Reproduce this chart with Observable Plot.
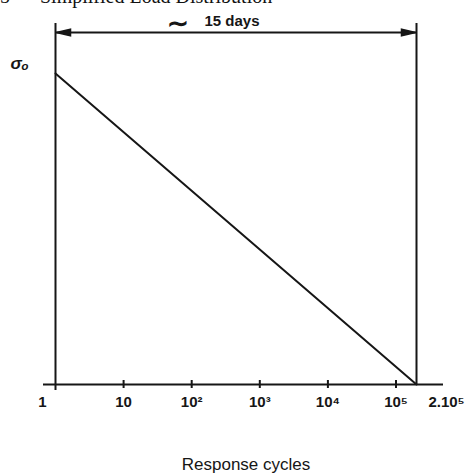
<!DOCTYPE html>
<html><head><meta charset="utf-8">
<script src="https://cdn.jsdelivr.net/npm/d3@7"></script>
<script src="https://cdn.jsdelivr.net/npm/@observablehq/plot@0.6"></script>
<style>
body{margin:0;background:#fff;}
#wrap{position:relative;width:468px;height:475px;overflow:hidden;background:#fff;}
#title{position:absolute;left:0;top:-14px;font:20px/20px "Liberation Serif",serif;white-space:pre;color:#111;}
#chart{position:absolute;left:0;top:0;}
</style></head>
<body>
<div id="wrap">
<div id="title">5      Simplified Load Distribution</div>
<div id="chart"></div>
</div>
<script>
// ---- data ----
const startCycles = 1;
const endCycles = 2e5;
const tickValues = [10, 100, 1e3, 1e4, 1e5];
const tickLabels = ["10", "10²", "10³", "10⁴", "10⁵"];
const startLabel = "1";
const endLabel = "2.10⁵";
const stressCycles = [1, 2e5];
const stressLevels = [1, 0];   // relative to σo
const durationLabel = "15 days";
const yLabel = "σₒ";
const xTitle = "Response cycles";

const curve = stressCycles.map((n, i) => ({n, s: stressLevels[i]}));
const ink = "#161616";
const font = "'Liberation Sans', Arial, sans-serif";

const arrowHead = {
  draw(ctx) { ctx.moveTo(7, 0); ctx.lineTo(-7, -3.2); ctx.lineTo(-7, 3.2); ctx.closePath(); }
};

const chart = Plot.plot({
  width: 468,
  height: 475,
  marginLeft: 55,
  marginRight: 52,
  marginTop: 73,
  marginBottom: 91,
  style: {background: "transparent", fontFamily: font},
  x: {type: "log", domain: [startCycles, endCycles], axis: null},
  y: {domain: [0, 1], axis: null},
  marks: [
    // horizontal axis line (extends beyond the frame)
    Plot.ruleY([0], {stroke: ink, strokeWidth: 2, insetLeft: -12, insetRight: -27}),
    // left and right vertical boundaries
    Plot.ruleX([startCycles], {stroke: ink, strokeWidth: 2, insetTop: -50, insetBottom: -6}),
    Plot.ruleX([endCycles], {stroke: ink, strokeWidth: 2, insetTop: -50}),
    // tick marks
    Plot.ruleX(tickValues, {y1: 0, y2: 0, insetTop: -4, insetBottom: -4, stroke: ink, strokeWidth: 2}),
    // duration arrow
    Plot.ruleY([1], {dy: -41, stroke: ink, strokeWidth: 2}),
    Plot.dot([endCycles], {x: d => d, y: 1, dy: -41, dx: -8, symbol: arrowHead, fill: ink, stroke: ink, r: 1}),
    Plot.dot([startCycles], {x: d => d, y: 1, dy: -41, dx: 8, symbol: arrowHead, rotate: 180, fill: ink, stroke: ink, r: 1}),
    Plot.text(["∼"], {frameAnchor: "top", lineAnchor: "middle", dx: -58, dy: -50, fontSize: 26, fontWeight: "bold", fill: ink}),
    Plot.text([durationLabel], {frameAnchor: "top", lineAnchor: "middle", dx: -4, dy: -52, fontSize: 15, fontWeight: "bold", fill: ink}),
    // stress decay line
    Plot.line(curve, {x: "n", y: "s", stroke: ink, strokeWidth: 2}),
    // y label
    Plot.text([yLabel], {frameAnchor: "top-left", lineAnchor: "middle", dx: -45, dy: -10, fontSize: 17, fontWeight: "bold", fontStyle: "italic", fill: ink}),
    // tick labels
    Plot.text(tickValues, {x: d => d, text: (d, i) => tickLabels[i], frameAnchor: "bottom", lineAnchor: "middle", dy: 18, fontSize: 15, fontWeight: "bold", fill: ink}),
    Plot.text([startCycles], {x: d => d, text: () => startLabel, frameAnchor: "bottom", lineAnchor: "middle", dx: -13, dy: 18, fontSize: 15, fontWeight: "bold", fill: ink}),
    Plot.text([endCycles], {x: d => d, text: () => endLabel, frameAnchor: "bottom", lineAnchor: "middle", dx: 30, dy: 18, fontSize: 15, fontWeight: "bold", fill: ink}),
    // x title
    Plot.text([xTitle], {frameAnchor: "bottom", lineAnchor: "middle", dx: 10, dy: 80, fontSize: 17, fill: ink})
  ]
});
document.getElementById("chart").appendChild(chart);
</script>
</body></html>
